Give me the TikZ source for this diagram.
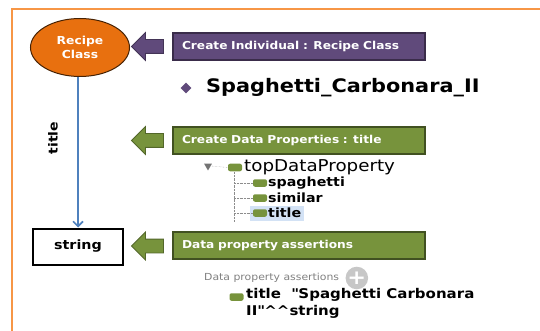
\documentclass[tikz,border=0pt]{standalone}
\usepackage{fontspec}
\setmainfont{DejaVu Sans}[FakeStretch=1.12]
\usetikzlibrary{arrows.meta, positioning, shapes.geometric, shapes.arrows}

\definecolor{frameorange}{HTML}{F79646}
\definecolor{classorange}{HTML}{E8700F}
\definecolor{boxpurple}{HTML}{604A7B}
\definecolor{boxgreen}{HTML}{77933C}
\definecolor{linkblue}{HTML}{4F81BD}
\definecolor{selblue}{HTML}{D3E2F5}

\begin{document}
\begin{tikzpicture}[
    x=1pt, y=-1pt,
    stepbox/.style={draw, line width=1.3pt, minimum width=252pt, minimum height=27pt,
                    text width=234pt, align=left, inner sep=0pt, text=white,
                    font=\fontsize{10.9}{12}\selectfont\bfseries},
    blockarrow/.style={single arrow, shape border rotate=180, minimum height=32pt,
                       inner sep=6.5pt, single arrow head extend=7pt, draw=#1!70!black,
                       fill=#1, line width=0.8pt},
    propicon/.style={fill=boxgreen, rounded corners=2pt, minimum width=14pt,
                     minimum height=7.5pt, inner sep=0pt},
    treetext/.style={anchor=west, inner sep=0pt, font=\fontsize{12.7}{14}\selectfont\bfseries},
  ]
  \useasboundingbox (0,0) rectangle (540,331);

  % --- frame ---
  \draw[frameorange, line width=2pt] (12,331) -- (12,9) -- (540,9);

  % --- class, link and datatype ---
  \node[ellipse, draw=black!70!classorange, line width=1pt, fill=classorange,
        minimum width=99pt, minimum height=58pt, align=center, text=white,
        font=\fontsize{11}{13.5}\selectfont\bfseries] (recipe) at (80,47.5) {Recipe\\Class};
  \node[draw, line width=2pt, fill=white, minimum width=90pt, minimum height=36pt,
        font=\fontsize{12.75}{14}\selectfont\bfseries] (string) at (78,246.5) {string};
  \draw[linkblue, line width=1.6pt, -{Straight Barb[length=5pt, width=10pt]}]
    (recipe.south -| string.north) -- (string.north);
  \node[rotate=90, font=\fontsize{12.5}{15}\selectfont\bfseries] (titlelbl) at (53,138) {title};

  % --- step boxes ---
  \node[stepbox, fill=boxpurple, draw=boxpurple!60!black] (mkind) at (299,46.5)
    {Create Individual : Recipe Class};
  \node[stepbox, fill=boxgreen, draw=boxgreen!55!black] (mkprop) at (299,140.5)
    {Create Data Properties : title};
  \node[stepbox, fill=boxgreen, draw=boxgreen!55!black] (mkassert) at (299,245.5)
    {Data property assertions};

  \node[blockarrow=boxpurple] (arr1) at (151,46.5) {};
  \node[blockarrow=boxgreen] (arr2) at (151,140.5) {};
  \node[blockarrow=boxgreen] (arr3) at (151,246) {};

  % --- individual ---
  \node[diamond, fill=boxpurple, minimum size=11pt, inner sep=0pt] (indmark) at (186,88) {};
  \node[anchor=west, inner sep=0pt, font=\fontsize{18.6}{20}\selectfont\bfseries]
    (indname) at (206,88) {Spaghetti\_Carbonara\_II};

  % --- property tree ---
  \node[regular polygon, regular polygon sides=3, shape border rotate=180, fill=black!55,
        minimum size=9pt, inner sep=0pt] (treeopen) at (208,166) {};
  \node[propicon] (icontop) at (235,167.5) {};
  \node[anchor=west, inner sep=0pt, font=\fontsize{16.3}{18}\selectfont] (topprop)
    at (244,167) {topDataProperty};
  \fill[selblue] (250,206) rectangle (304,221);
  \foreach \name/\lbl/\ypos in {p1/spaghetti/183, p2/similar/198, p3/title/213} {
    \node[propicon] (icon\name) at (260,\ypos) {};
    \node[treetext] (\name) at (268,\ypos) {\lbl};
    \draw[black!45, densely dotted] (234,\ypos) -- (icon\name.west);
  }
  \draw[black!45, densely dotted] (treeopen.east) -- (icontop.west);
  \draw[black!45, densely dotted] (234,172) -- (234,222);

  % --- assertion view ---
  \node[anchor=west, inner sep=0pt, text=black!50, font=\fontsize{9.7}{11}\selectfont]
    (asserthdr) at (204,278) {Data property assertions};
  \node[circle, fill=black!22, minimum size=22pt, inner sep=0pt, text=white,
        font=\fontsize{20}{20}\selectfont\bfseries, right=6pt of asserthdr] (addbtn) {+};
  \node[propicon] (iconassert) at (236.5,297) {};
  \node[anchor=north west, inner sep=0pt, align=left,
        font=\fontsize{13.4}{17}\selectfont\bfseries] (assertval) at (246,288.5)
    {title~~\textquotedbl Spaghetti Carbonara\\II\textquotedbl\textasciicircum\textasciicircum string};
\end{tikzpicture}
\end{document}
